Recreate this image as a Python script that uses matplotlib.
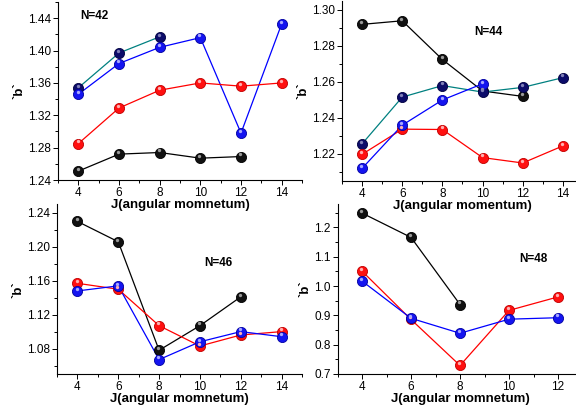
import matplotlib.pyplot as plt
from matplotlib.ticker import MultipleLocator
from matplotlib.transforms import offset_copy

plt.rcParams['font.family'] = ['Liberation Sans', 'DejaVu Sans']

# N=42
j42_black = [4, 6, 8, 10, 12]
b42_black = [1.251, 1.272, 1.274, 1.267, 1.269]
j42_teal = [4, 6, 8]
b42_teal = [1.354, 1.397, 1.417]
j42_blue = [4, 6, 8, 10, 12, 14]
b42_blue = [1.346, 1.384, 1.404, 1.416, 1.298, 1.433]
j42_red = [4, 6, 8, 10, 12, 14]
b42_red = [1.285, 1.329, 1.351, 1.360, 1.356, 1.360]

# N=44
j44_black = [4, 6, 8, 10, 12]
b44_black = [1.292, 1.294, 1.2725, 1.255, 1.252]
j44_teal = [4, 6, 8, 10, 12, 14]
b44_teal = [1.2256, 1.2516, 1.258, 1.2544, 1.257, 1.2624]
j44_blue = [4, 6, 8, 10]
b44_blue = [1.212, 1.236, 1.250, 1.259]
j44_red = [4, 6, 8, 10, 12, 14]
b44_red = [1.2198, 1.2338, 1.2336, 1.218, 1.215, 1.2245]

# N=46
j46_black = [4, 6, 8, 10, 12]
b46_black = [1.230, 1.206, 1.078, 1.107, 1.141]
j46_red = [4, 6, 8, 10, 12, 14]
b46_red = [1.157, 1.150, 1.107, 1.083, 1.096, 1.100]
j46_blue = [4, 6, 8, 10, 12, 14]
b46_blue = [1.148, 1.154, 1.067, 1.088, 1.100, 1.094]

# N=48
j48_black = [4, 6, 8]
b48_black = [1.249, 1.166, 0.937]
j48_red = [4, 6, 8, 10, 12]
b48_red = [1.051, 0.886, 0.729, 0.917, 0.963]
j48_blue = [4, 6, 8, 10, 12]
b48_blue = [1.017, 0.890, 0.839, 0.887, 0.892]

# (line colour, ball colour, ball edge, highlight)
styles = {
    'black': ('#000000', '#111111', '#000000', '#9a9a9a'),
    'red': ('#ff0000', '#ff1010', '#c00000', '#ffb0b0'),
    'blue': ('#0000ff', '#1414f0', '#0000a0', '#a8a8ff'),
    'teal': ('#008080', '#0c0c6a', '#000040', '#8080b8'),
}


def balls(ax, fig, x, y, kind):
    line, face, edge, hi = styles[kind]
    ax.plot(x, y, '-', color=line, lw=0.9, zorder=2)
    ax.plot(x, y, 'o', ms=7.3, mfc=face, mec=edge, mew=0.6, zorder=3)
    tr = offset_copy(ax.transData, fig=fig, x=-0.6, y=1.6, units='points')
    ax.plot(x, y, 'o', ms=2.4, mfc=hi, mec='none', transform=tr, zorder=4)


def style_axes(ax, xlim, xticks, ylim, ymajor, yfmt, xlabel):
    ax.set_xlim(*xlim)
    ax.set_ylim(*ylim)
    ax.set_xticks(xticks)
    ax.xaxis.set_minor_locator(MultipleLocator(1))
    ax.yaxis.set_major_locator(MultipleLocator(ymajor))
    ax.yaxis.set_minor_locator(MultipleLocator(ymajor / 2))
    ax.yaxis.set_major_formatter(plt.FormatStrFormatter(yfmt))
    for s in ['top', 'right']:
        ax.spines[s].set_visible(False)
    for s in ['left', 'bottom']:
        ax.spines[s].set_linewidth(0.8)
    ax.tick_params(which='both', direction='out', labelsize=8.5, width=0.7, pad=1.5)
    ax.tick_params(which='major', length=3.5)
    ax.tick_params(which='minor', length=2)
    ax.set_xlabel(xlabel, fontsize=9.5, fontweight='bold', labelpad=0)
    ax.set_ylabel("`b`", fontsize=9.5, fontweight='bold', labelpad=2)
    ax.patch.set_alpha(0)


fig = plt.figure(figsize=(5.76, 4.07), dpi=100)

ax1 = fig.add_axes([0.1007, 0.5577, 0.4236, 0.4373])
balls(ax1, fig, j42_teal, b42_teal, 'teal')
balls(ax1, fig, j42_blue, b42_blue, 'blue')
balls(ax1, fig, j42_red, b42_red, 'red')
balls(ax1, fig, j42_black, b42_black, 'black')
style_axes(ax1, (3, 15), [4, 6, 8, 10, 12, 14], (1.24, 1.46), 0.04, '%.2f',
           'J(angular momnetum)')
ax1.text(0.09, 0.905, 'N=42', transform=ax1.transAxes, fontsize=8.5, fontweight='bold')

ax2 = fig.add_axes([0.5937, 0.5553, 0.4184, 0.4423])
balls(ax2, fig, j44_black, b44_black, 'black')
balls(ax2, fig, j44_teal, b44_teal, 'teal')
balls(ax2, fig, j44_red, b44_red, 'red')
balls(ax2, fig, j44_blue, b44_blue, 'blue')
style_axes(ax2, (3, 15), [4, 6, 8, 10, 12, 14], (1.205, 1.305), 0.02, '%.2f',
           'J(angular momentum)')
ax2.text(0.55, 0.81, 'N=44', transform=ax2.transAxes, fontsize=8.5, fontweight='bold')

ax3 = fig.add_axes([0.099, 0.0811, 0.4253, 0.4165])
balls(ax3, fig, j46_black, b46_black, 'black')
balls(ax3, fig, j46_red, b46_red, 'red')
balls(ax3, fig, j46_blue, b46_blue, 'blue')
style_axes(ax3, (3, 15), [4, 6, 8, 10, 12, 14], (1.05, 1.25), 0.04, '%.2f',
           'J(angular momnetum)')
ax3.text(0.6, 0.64, 'N=46', transform=ax3.transAxes, fontsize=8.5, fontweight='bold')

ax4 = fig.add_axes([0.586, 0.0811, 0.4253, 0.4177])
balls(ax4, fig, j48_black, b48_black, 'black')
balls(ax4, fig, j48_red, b48_red, 'red')
balls(ax4, fig, j48_blue, b48_blue, 'blue')
style_axes(ax4, (3, 13), [4, 6, 8, 10, 12], (0.7, 1.28), 0.1, '%.1f',
           'J(angular momnetum)')
ax4.text(0.74, 0.66, 'N=48', transform=ax4.transAxes, fontsize=8.5, fontweight='bold')

fig.savefig('out.png', dpi=100)
